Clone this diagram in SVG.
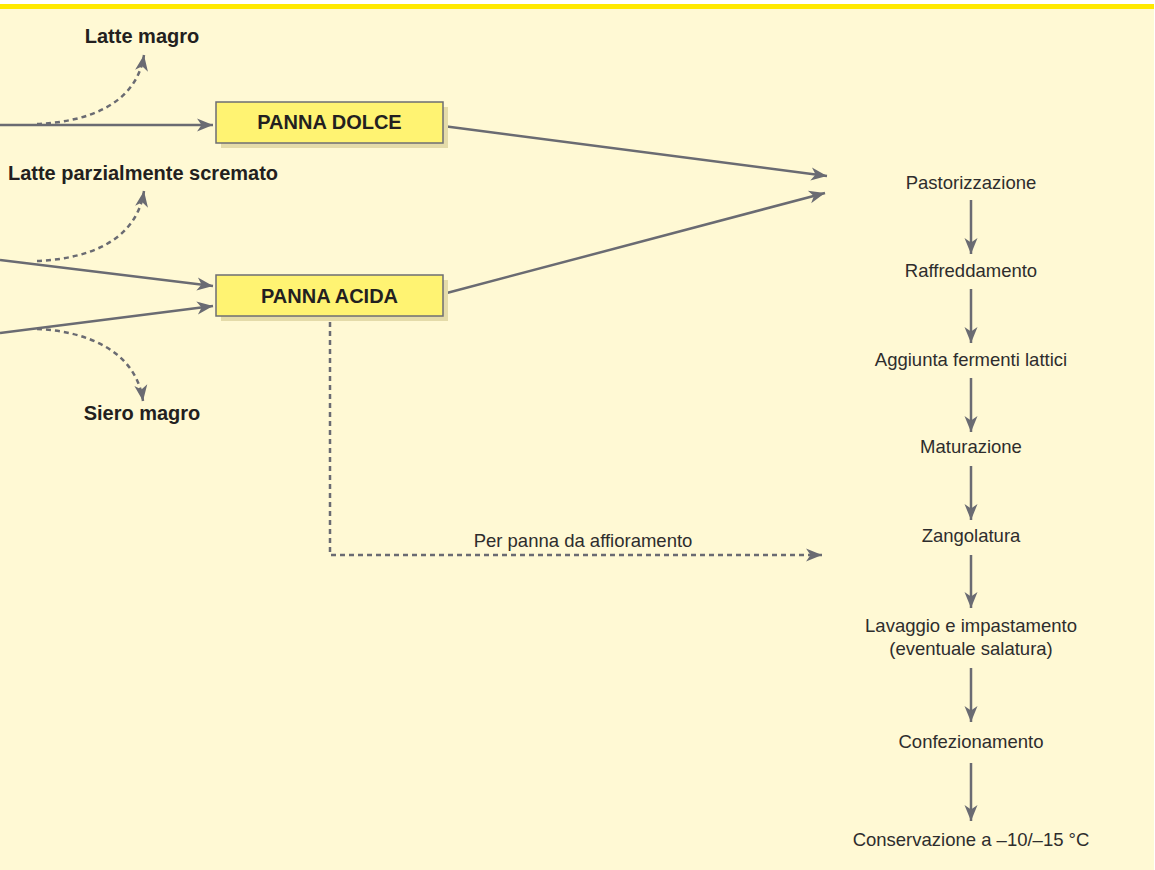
<svg xmlns="http://www.w3.org/2000/svg" width="1155" height="870" viewBox="0 0 1155 870">
  <defs>
    <marker id="arrow" viewBox="-17 -7 18 14" refX="0" refY="0" markerWidth="18" markerHeight="14" markerUnits="userSpaceOnUse" orient="auto">
      <path d="M0,0 L-16,-6.5 L-11.5,0 L-16,6.5 Z" fill="#6a6b72"/>
    </marker>
    <style>
      .bg { fill: #fff9d4; }
      .band { fill: #ffe900; }
      .box { fill: #fff372; stroke: #6d6e73; stroke-width: 1.5; }
      .shadow { fill: #e4dba9; }
      .boxlabel { font-family: "Liberation Sans", Arial, sans-serif; font-weight: bold; font-size: 20px; fill: #231f20; text-anchor: middle; }
      .label { font-family: "Liberation Sans", Arial, sans-serif; font-weight: bold; font-size: 20px; fill: #231f20; text-anchor: middle; }
      .step { font-family: "Liberation Sans", Arial, sans-serif; font-size: 18.5px; fill: #2e2d2d; text-anchor: middle; }
      .flow { fill: none; stroke: #6a6b72; stroke-width: 2.5; marker-end: url(#arrow); }
      .dash { fill: none; stroke: #6a6b72; stroke-width: 2.5; stroke-dasharray: 5 4; marker-end: url(#arrow); }
    </style>
  </defs>

  <!-- page -->
  <rect x="0" y="0" width="1155" height="870" fill="#ffffff"/>
  <rect class="bg" x="0" y="9" width="1154" height="861"/>
  <rect class="band" x="0" y="4" width="1154" height="5"/>

  <!-- connectors -->
  <g id="connectors">
    <path class="flow" d="M0,125 L213,125"/>
    <path class="flow" d="M0,260 L213,286"/>
    <path class="flow" d="M0,333 L213,306"/>
    <path class="flow" d="M443,126 L827,176"/>
    <path class="flow" d="M443,294 L825,193"/>
    <path class="dash" d="M37,124 C85,122 136,106 144,55"/>
    <path class="dash" d="M37,261 C85,259 136,243 144,191"/>
    <path class="dash" d="M37,329 C85,331 136,350 143,401"/>
    <path class="dash" d="M330,322 L330,555 L822,555"/>
    <path class="flow" d="M971,200 L971,254"/>
    <path class="flow" d="M971,289 L971,343"/>
    <path class="flow" d="M971,378 L971,432"/>
    <path class="flow" d="M971,466 L971,520"/>
    <path class="flow" d="M971,555 L971,608"/>
    <path class="flow" d="M971,668 L971,722"/>
    <path class="flow" d="M971,763 L971,821"/>
  </g>

  <!-- source products -->
  <g id="panna-dolce">
    <rect class="shadow" x="221" y="107" width="227" height="41"/>
    <rect class="box" x="216" y="102" width="227" height="41"/>
    <text class="boxlabel" x="329.5" y="129">PANNA DOLCE</text>
  </g>
  <g id="panna-acida">
    <rect class="shadow" x="221" y="280" width="227" height="41"/>
    <rect class="box" x="216" y="275" width="227" height="41"/>
    <text class="boxlabel" x="329.5" y="303">PANNA ACIDA</text>
  </g>

  <!-- by-products -->
  <g id="latte-magro"><text class="label" x="142" y="43">Latte magro</text></g>
  <g id="latte-parz"><text class="label" x="143" y="180">Latte parzialmente scremato</text></g>
  <g id="siero-magro"><text class="label" x="142" y="420">Siero magro</text></g>
  <g id="affioramento"><text class="step" x="583" y="547">Per panna da affioramento</text></g>

  <!-- processing steps -->
  <g id="pastorizzazione"><text class="step" x="971" y="189">Pastorizzazione</text></g>
  <g id="raffreddamento"><text class="step" x="971" y="277">Raffreddamento</text></g>
  <g id="fermenti"><text class="step" x="971" y="366">Aggiunta fermenti lattici</text></g>
  <g id="maturazione"><text class="step" x="971" y="453">Maturazione</text></g>
  <g id="zangolatura"><text class="step" x="971" y="542">Zangolatura</text></g>
  <g id="lavaggio">
    <text class="step" x="971" y="632">Lavaggio e impastamento</text>
    <text class="step" x="971" y="655">(eventuale salatura)</text>
  </g>
  <g id="confezionamento"><text class="step" x="971" y="748">Confezionamento</text></g>
  <g id="conservazione"><text class="step" x="971" y="846">Conservazione a –10/–15 °C</text></g>
</svg>
